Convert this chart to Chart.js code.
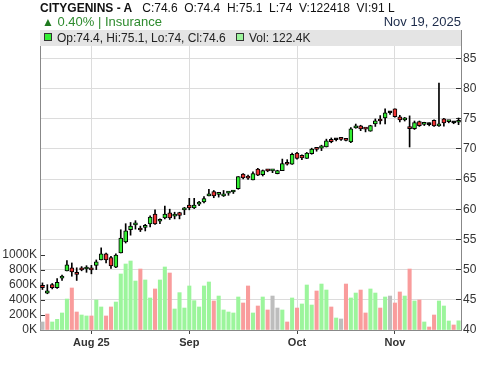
<!DOCTYPE html>
<html>
<head>
<meta charset="utf-8">
<script src="https://cdn.jsdelivr.net/npm/chart.js@4.4.1/dist/chart.umd.min.js"></script>
<style>
  body { margin: 0; background: #fff; font-family: "Liberation Sans", Arial, sans-serif; }
  #wrap { position: relative; width: 500px; height: 366px; overflow: hidden; }
  #chart { position: absolute; left: 0; top: 0; }
  .hdr { position: absolute; white-space: pre; font-size: 12px; color: #111; line-height: 14px; }
  #leg { position: absolute; left: 40px; top: 30px; width: 421px; height: 16px; background: #e4e4e4; font-size: 12px; color: #222; }
  #leg .sq { position: absolute; top: 3px; width: 6px; height: 6px; border: 1px solid #333; }
  #leg .tx { position: absolute; top: 1px; line-height: 14px; white-space: pre; }
</style>
</head>
<body>
<div id="wrap">
  <canvas id="chart" width="500" height="366"></canvas>
  <div class="hdr" style="left:40px;top:1px"><b>CITYGENINS - A</b>   C:74.6  O:74.4  H:75.1  L:74  V:122418  VI:91 L</div>
  <div class="hdr" style="left:42px;top:14px;font-size:13px;line-height:15px;color:#2e8b2e"><span style="font-size:12px;color:#1f7a1f">▲</span> 0.40% | Insurance</div>
  <div class="hdr" style="right:39px;top:14px;font-size:13px;line-height:15px;color:#1c2b4a">Nov 19, 2025</div>
  <div id="leg">
    <div class="sq" style="left:4px;background:#33ee33"></div>
    <div class="tx" style="left:17px">Op:74.4, Hi:75.1, Lo:74, Cl:74.6</div>
    <div class="sq" style="left:196px;background:#9cf59c"></div>
    <div class="tx" style="left:209px">Vol: 122.4K</div>
  </div>
</div>
<script>
// --- DATA ---
const opens = [
  47.4, 46.1, 47.5, 47.0, 48.6, 49.8, 50.3, 49.3, 50.3, 50.1,
  50.3, 50.7, 51.6, 52.6, 52.0, 50.4, 52.75, 54.6, 56.6, 57.4,
  56.65, 57.0, 57.55, 59.2, 58.0, 58.55, 59.4, 58.85, 59.45, 59.9,
  60.7, 60.2, 60.85, 61.2, 62.2, 62.9, 62.45, 62.2, 62.65, 62.85,
  63.4, 65.8, 65.2, 64.85, 66.65, 65.7, 66.4, 66.35, 65.9, 66.4,
  67.7, 67.45, 69.3, 68.9, 68.4, 69.2, 70.0, 70.1, 70.3, 71.55,
  71.5, 71.8, 71.45, 71.15, 73.45, 73.8, 73.3, 72.9, 74.1, 74.7,
  75.1, 75.95, 76.6, 75.3, 74.8, 73.45, 73.35, 74.5, 74.05, 74.0,
  74.7, 73.8, 74.95, 74.5, 74.3, 74.4
];
const highs = [
  47.8, 47.5, 47.7, 48.5, 49.1, 51.5, 51.1, 50.3, 50.5, 50.65,
  50.7, 51.6, 53.6, 52.75, 52.2, 52.6, 56.6, 57.6, 57.8, 58.1,
  57.2, 57.5, 58.9, 59.9, 58.4, 60.5, 60.0, 59.5, 59.5, 60.3,
  61.8, 61.8, 61.3, 62.1, 63.3, 63.1, 62.8, 63.1, 62.9, 63.1,
  65.4, 65.9, 65.65, 66.2, 66.75, 66.5, 66.6, 66.55, 66.45, 68.3,
  68.2, 69.3, 69.4, 69.0, 69.4, 70.1, 70.2, 70.6, 71.6, 71.8,
  71.65, 71.85, 71.55, 73.5, 74.1, 73.9, 73.45, 73.9, 74.95, 75.5,
  76.6, 76.15, 76.6, 75.55, 75.2, 75.45, 74.6, 74.6, 74.4, 74.3,
  74.8, 80.9, 75.05, 74.7, 74.5, 75.1
];
const lows = [
  46.7, 46.0, 46.8, 46.9, 48.2, 49.8, 48.9, 48.2, 49.8, 49.55,
  49.3, 50.0, 51.6, 51.1, 50.2, 50.3, 52.75, 54.4, 55.7, 56.7,
  56.3, 56.4, 57.05, 57.5, 57.6, 58.4, 58.3, 58.4, 58.4, 59.1,
  59.9, 60.1, 60.6, 61.05, 62.2, 61.9, 62.0, 62.1, 62.3, 62.6,
  63.3, 65.0, 64.95, 64.85, 65.55, 65.5, 66.2, 66.05, 65.85, 66.4,
  67.3, 67.4, 68.3, 68.2, 68.4, 69.1, 69.6, 69.7, 70.3, 71.0,
  71.3, 71.4, 71.3, 71.0, 73.4, 73.0, 72.8, 72.9, 73.7, 74.1,
  74.1, 75.7, 75.25, 74.45, 74.6, 70.3, 73.2, 73.7, 73.85, 73.8,
  73.7, 73.7, 73.75, 74.3, 74.15, 74.0
];
const closes = [
  47.0, 46.5, 47.0, 47.9, 48.7, 50.8, 49.6, 49.2, 49.95, 50.2,
  49.95, 51.3, 52.6, 51.6, 50.6, 52.4, 55.2, 56.4, 57.2, 57.45,
  56.55, 57.05, 58.7, 57.55, 58.05, 59.2, 58.55, 58.9, 58.95, 59.95,
  60.2, 60.7, 60.9, 61.75, 62.55, 62.2, 62.5, 62.55, 62.7, 62.9,
  65.4, 65.2, 65.15, 65.9, 65.65, 66.4, 66.35, 66.4, 66.4, 67.55,
  67.45, 69.1, 68.4, 68.5, 69.3, 69.95, 69.9, 70.5, 71.3, 71.2,
  71.5, 71.55, 71.4, 73.3, 73.8, 73.3, 73.25, 73.85, 74.65, 74.6,
  75.95, 75.95, 75.3, 74.8, 74.85, 73.35, 74.35, 73.85, 74.1, 74.0,
  73.8, 74.05, 74.3, 74.55, 74.3, 74.6
];
// volume in shares
const volumes = [
  107000, 213000, 107000, 142000, 227000, 413000, 560000, 240000, 200000, 187000,
  187000, 400000, 307000, 187000, 307000, 373000, 747000, 880000, 920000, 653000,
  813000, 667000, 427000, 547000, 667000, 840000, 760000, 280000, 498000, 293000,
  587000, 391000, 307000, 587000, 640000, 387000, 453000, 267000, 240000, 227000,
  440000, 360000, 587000, 227000, 320000, 440000, 267000, 453000, 293000, 267000,
  107000, 427000, 293000, 347000, 600000, 333000, 520000, 613000, 533000, 307000,
  160000, 147000, 613000, 427000, 493000, 533000, 227000, 547000, 493000, 293000,
  440000, 453000, 360000, 507000, 453000, 813000, 387000, 400000, 107000, 40000,
  200000, 387000, 320000, 120000, 67000, 122418
];
// u = close up, d = close down, n = unchanged
const volDir = [
  'n','d','u','u','u','u','d','d','u','u',
  'd','u','u','d','d','u','u','u','u','u',
  'd','u','u','d','u','u','d','u','u','u',
  'u','u','u','u','u','d','u','u','u','u',
  'u','d','d','u','d','u','d','n','n','u',
  'd','u','d','u','u','u','d','u','u','d',
  'u','n','d','u','u','d','d','u','u','d',
  'u','n','d','d','u','d','u','d','u','d',
  'd','u','u','u','d','u'
];
const monthIdx = [10, 30, 52, 72];
const monthLabels = ['Aug 25', 'Sep', 'Oct', 'Nov'];
const priceTicks = [40, 45, 50, 55, 60, 65, 70, 75, 80, 85];
const volTicks = [0, 200000, 400000, 600000, 800000, 1000000];

// --- STYLE ---
const UP = '#33ee33', DOWN = '#ee3333', FLAT = '#000000';
const volColorMap = { u: '#9cf59c', d: '#f99c9c', n: '#bdbdbd' };
const candleColors = opens.map((o, i) => closes[i] > o ? UP : (closes[i] < o ? DOWN : FLAT));
const volColors = volDir.map(d => volColorMap[d]);
const labels = opens.map((_, i) => String(i));

const ctx = document.getElementById('chart').getContext('2d');
new Chart(ctx, {
  type: 'bar',
  data: {
    labels,
    datasets: [
      {
        label: 'body',
        data: opens.map((o, i) => [o, closes[i]]),
        yAxisID: 'price', grouped: false, order: 0,
        barThickness: 4, minBarLength: 2,
        backgroundColor: candleColors, borderColor: '#000', borderWidth: 1, borderSkipped: false
      },
      {
        label: 'wick',
        data: lows.map((l, i) => [l, highs[i]]),
        yAxisID: 'price', grouped: false, order: 1,
        barThickness: 1, backgroundColor: '#000'
      },
      {
        label: 'volume',
        data: volumes,
        yAxisID: 'vol', grouped: false, order: 2,
        barThickness: 3.4, backgroundColor: volColors
      }
    ]
  },
  options: {
    responsive: false,
    animation: false,
    layout: { padding: { top: 30, left: 0, right: 0, bottom: 0 } },
    plugins: { legend: { display: false }, tooltip: { enabled: false } },
    scales: {
      x: {
        type: 'category', offset: true,
        grid: { offset: false, color: '#dcdcdc', tickColor: '#444', tickLength: 4 },
        border: { color: '#888' },
        ticks: {
          autoSkip: false, maxRotation: 0, padding: 2, color: '#333',
          font: { size: 11, weight: 'bold', family: '"Liberation Sans", Arial, sans-serif' },
          callback: v => monthLabels[monthIdx.indexOf(v)]
        },
        afterBuildTicks: a => { a.ticks = monthIdx.map(v => ({ value: v })); },
        afterFit: s => { s.height = 36; }
      },
      price: {
        position: 'right', min: 40, max: 89.67,
        grid: { color: '#dcdcdc', tickColor: '#333', tickLength: -5 },
        border: { color: '#888' },
        ticks: { padding: 7, color: '#333', font: { size: 12, family: '"Liberation Sans", Arial, sans-serif' } },
        afterBuildTicks: a => { a.ticks = priceTicks.map(v => ({ value: v })); },
        afterFit: s => { s.width = 39; }
      },
      vol: {
        position: 'left', min: 0, max: 4000000,
        grid: { drawOnChartArea: false, tickColor: '#333', tickLength: -5 },
        border: { color: '#888' },
        ticks: {
          padding: 8, color: '#333', font: { size: 12, family: '"Liberation Sans", Arial, sans-serif' },
          callback: v => (v / 1000) + 'K'
        },
        afterBuildTicks: a => { a.ticks = volTicks.map(v => ({ value: v })); },
        afterFit: s => { s.width = 40; }
      }
    }
  }
});
</script>
</body>
</html>
